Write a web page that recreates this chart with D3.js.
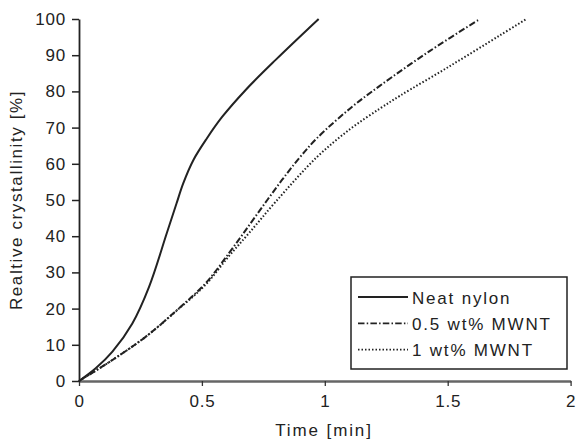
<!DOCTYPE html>
<html>
<head>
<meta charset="utf-8">
<script src="https://cdn.jsdelivr.net/npm/d3@7"></script>
<style>
  body { margin: 0; background: #fff; }
  text { font-family: "Liberation Sans", Arial, sans-serif; fill: #222; }
</style>
</head>
<body>
<div id="chart"></div>
<script>
// values: time [min] and relative crystallinity [%]
const neatTime = [0, 0.068, 0.136, 0.217, 0.285, 0.357, 0.397, 0.424, 0.465, 0.520, 0.583, 0.678, 0.800, 0.975];
const neatCryst = [0, 3.5, 8.1, 15.9, 26.0, 40.8, 49.1, 54.6, 61.0, 67.0, 73.0, 80.4, 88.7, 100];

const mwnt05Time = [0, 0.136, 0.271, 0.407, 0.515, 0.610, 0.692, 0.766, 0.831, 0.895, 0.967, 1.103, 1.225, 1.428, 1.631];
const mwnt05Cryst = [0, 5.8, 12.2, 20.1, 27.0, 35.3, 43.0, 50.0, 56.0, 61.5, 67.0, 75.3, 81.6, 91.2, 100];

const mwnt1Time = [0, 0.136, 0.271, 0.407, 0.515, 0.610, 0.696, 0.800, 0.967, 1.103, 1.225, 1.306, 1.509, 1.713, 1.82];
const mwnt1Cryst = [0, 5.8, 12.2, 20.0, 26.6, 34.5, 41.2, 49.5, 61.8, 69.6, 75.3, 78.8, 87.0, 95.5, 100];

const seriesNames = ["Neat nylon", "0.5 wt% MWNT", "1 wt% MWNT"];
const xTicks = [0, 0.5, 1, 1.5, 2];
const yTicks = [0, 10, 20, 30, 40, 50, 60, 70, 80, 90, 100];

const width = 576, height = 440;
const dashes = [null, "6.5,2.2,1.5,2.2", "1.5,2"];

const series = [
  neatTime.map((t, i) => ({ t, v: neatCryst[i] })),
  mwnt05Time.map((t, i) => ({ t, v: mwnt05Cryst[i] })),
  mwnt1Time.map((t, i) => ({ t, v: mwnt1Cryst[i] }))
];

const x = d3.scaleLinear().domain([0, 2]).range([79, 570.6]);
const y = d3.scaleLinear().domain([0, 100]).range([381, 19]);

const svg = d3.select("#chart")
  .append("svg")
  .attr("width", width)
  .attr("height", height);

// y axis
const yAxis = svg.append("g")
  .attr("transform", `translate(${x(0)},0)`)
  .call(d3.axisLeft(y).tickValues(yTicks).tickSize(7).tickSizeOuter(0).tickPadding(6));
yAxis.select(".domain").attr("stroke", "#222").attr("stroke-width", 1.8);
yAxis.selectAll(".tick line").attr("stroke", "#222").attr("stroke-width", 1.5);
yAxis.selectAll(".tick text")
  .attr("font-size", 17)
  .attr("font-family", "Liberation Sans, Arial, sans-serif")
  .attr("fill", "#222")
  .style("letter-spacing", "0.8px");

// x axis
const xAxis = svg.append("g")
  .attr("transform", `translate(0,${y(0)})`)
  .call(d3.axisBottom(x).tickValues(xTicks).tickFormat(d3.format("")).tickSize(5).tickSizeOuter(0).tickPadding(9));
xAxis.select(".domain").attr("stroke", "#666").attr("stroke-width", 2.4);
xAxis.selectAll(".tick line").attr("stroke", "#333").attr("stroke-width", 1.3);
xAxis.selectAll(".tick text")
  .attr("font-size", 17)
  .attr("font-family", "Liberation Sans, Arial, sans-serif")
  .attr("fill", "#222")
  .style("letter-spacing", "0.8px");

// axis titles
svg.append("text")
  .attr("x", 324)
  .attr("y", 436)
  .attr("text-anchor", "middle")
  .attr("font-size", 17)
  .style("letter-spacing", "1.9px")
  .text("Time [min]");

svg.append("text")
  .attr("transform", "translate(22,200) rotate(-90)")
  .attr("text-anchor", "middle")
  .attr("font-size", 17)
  .style("letter-spacing", "1.6px")
  .text("Realtive crystallinity [%]");

// curves
const line = d3.line()
  .x(d => x(d.t))
  .y(d => y(d.v))
  .curve(d3.curveCatmullRom.alpha(0.5));

svg.selectAll(".curve")
  .data(series)
  .enter()
  .append("path")
  .attr("class", "curve")
  .attr("d", line)
  .attr("fill", "none")
  .attr("stroke", "#222")
  .attr("stroke-width", 2)
  .attr("stroke-dasharray", (d, i) => dashes[i]);

// legend
const legend = svg.append("g");
legend.append("rect")
  .attr("x", 351)
  .attr("y", 277)
  .attr("width", 216)
  .attr("height", 92)
  .attr("fill", "#fff")
  .attr("stroke", "#222")
  .attr("stroke-width", 1.5);

const rows = legend.selectAll(".row")
  .data(seriesNames)
  .enter()
  .append("g")
  .attr("class", "row")
  .attr("transform", (d, i) => `translate(0,${297 + i * 26.3})`);

rows.append("line")
  .attr("x1", 358)
  .attr("x2", 408)
  .attr("stroke", "#222")
  .attr("stroke-width", 1.8)
  .attr("stroke-dasharray", (d, i) => dashes[i]);

rows.append("text")
  .attr("x", 412)
  .attr("y", 6.5)
  .attr("font-size", 17)
  .style("letter-spacing", "1.8px")
  .text(d => d);
</script>
</body>
</html>
